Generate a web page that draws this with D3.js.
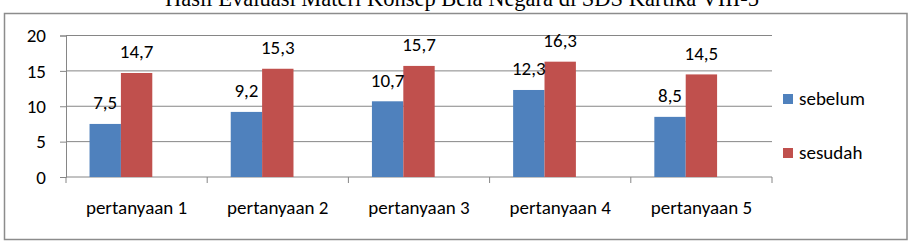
<!DOCTYPE html>
<html>
<head>
<meta charset="utf-8">
<script src="https://cdn.jsdelivr.net/npm/d3@7"></script>
<style>
  body { margin: 0; background: #fff; }
  svg { display: block; }
  text { font-family: Carlito, Calibri, Lato, sans-serif; fill: #000; }
  .title { font-family: "Liberation Serif", "Times New Roman", serif; }
</style>
</head>
<body>
<div id="chart"></div>
<script>
var categories = ["pertanyaan 1", "pertanyaan 2", "pertanyaan 3", "pertanyaan 4", "pertanyaan 5"];
var seriesNames = ["sebelum", "sesudah"];
var sebelum = [7.5, 9.2, 10.7, 12.3, 8.5];
var sesudah = [14.7, 15.3, 15.7, 16.3, 14.5];
var yTicks = [0, 5, 10, 15, 20];
var colors = ["#4F81BD", "#C0504D"];
var title = "Hasil Evaluasi Materi Konsep Bela Negara di SDS Kartika VIII-5";

var width = 917, height = 242;
var plot = {left: 66, right: 772, top: 35.5, bottom: 177};

var fmt = d3.formatLocale({decimal: ",", thousands: ".", grouping: [3], currency: ["Rp", ""]}).format(".1f");

var rows = categories.map(function(c, i) {
  return {cat: c, values: [sebelum[i], sesudah[i]]};
});

var svg = d3.select("#chart").append("svg")
    .attr("width", width)
    .attr("height", height);

// title, mostly cut off by the top edge
svg.append("text")
    .attr("class", "title")
    .attr("x", 462)
    .attr("y", 6)
    .attr("text-anchor", "middle")
    .style("font-size", "22.5px")
    .text(title);

// outer frame
svg.append("rect")
    .attr("x", 4.5)
    .attr("y", 13.5)
    .attr("width", 902.5)
    .attr("height", 226)
    .attr("fill", "none")
    .attr("stroke", "#8c8c8c")
    .attr("stroke-width", 1.5);

var x0 = d3.scaleBand()
    .domain(categories)
    .range([plot.left, plot.right])
    .padding(0);

// three slots per group (third one is empty), gap 150%
var x1 = d3.scaleBand()
    .domain(seriesNames.concat(["_"]))
    .range([0, x0.bandwidth()])
    .paddingInner(0)
    .paddingOuter(0.75);

var y = d3.scaleLinear()
    .domain([0, 20])
    .range([plot.bottom, plot.top]);

// gridlines
svg.append("g")
  .selectAll("line")
  .data(yTicks.filter(function(d) { return d > 0; }))
  .enter().append("line")
    .attr("x1", plot.left)
    .attr("x2", plot.right)
    .attr("y1", function(d) { return y(d); })
    .attr("y2", function(d) { return y(d); })
    .attr("stroke", "#868686")
    .attr("stroke-width", 1);

// y axis
var yAxis = svg.append("g")
    .attr("transform", "translate(" + plot.left + ",0)")
    .call(d3.axisLeft(y).tickValues(yTicks).tickSize(6).tickPadding(14));
yAxis.select(".domain").attr("stroke", "#868686");
yAxis.selectAll(".tick line").attr("stroke", "#868686");
yAxis.selectAll("text")
    .style("font-size", "19px")
    .attr("dy", "0.33em")
    .attr("fill", "#000");

// x axis
var xAxis = svg.append("g")
    .attr("transform", "translate(0," + plot.bottom + ")");
xAxis.append("line")
    .attr("x1", plot.left)
    .attr("x2", plot.right)
    .attr("stroke", "#868686");
xAxis.selectAll(".tk")
  .data(categories.map(function(c) { return x0(c); }).concat([plot.right]))
  .enter().append("line")
    .attr("class", "tk")
    .attr("x1", function(d) { return d; })
    .attr("x2", function(d) { return d; })
    .attr("y1", 0)
    .attr("y2", 6)
    .attr("stroke", "#868686");
xAxis.selectAll(".lbl")
  .data(categories)
  .enter().append("text")
    .attr("class", "lbl")
    .attr("x", function(d) { return x0(d) + x0.bandwidth() / 2; })
    .attr("y", 37)
    .attr("text-anchor", "middle")
    .style("font-size", "19px")
    .text(function(d) { return d; });

// bars
var groups = svg.append("g")
  .selectAll("g")
  .data(rows)
  .enter().append("g")
    .attr("transform", function(d) { return "translate(" + x0(d.cat) + ",0)"; });

groups.selectAll("rect")
  .data(function(d) { return d.values.map(function(v, i) { return {key: seriesNames[i], value: v, i: i}; }); })
  .enter().append("rect")
    .attr("x", function(d) { return x1(d.key); })
    .attr("y", function(d) { return y(d.value); })
    .attr("width", x1.bandwidth())
    .attr("height", function(d) { return y(0) - y(d.value); })
    .attr("fill", function(d) { return colors[d.i]; });

groups.selectAll("text")
  .data(function(d) { return d.values.map(function(v, i) { return {key: seriesNames[i], value: v}; }); })
  .enter().append("text")
    .attr("x", function(d) { return x1(d.key) + x1.bandwidth() / 2; })
    .attr("y", function(d) { return y(d.value) - 14.5; })
    .attr("text-anchor", "middle")
    .style("font-size", "19px")
    .text(function(d) { return fmt(d.value); });

// legend
var legend = svg.append("g")
  .selectAll("g")
  .data(seriesNames)
  .enter().append("g")
    .attr("transform", function(d, i) { return "translate(783," + (94 + i * 54) + ")"; });

legend.append("rect")
    .attr("width", 10)
    .attr("height", 10)
    .attr("fill", function(d, i) { return colors[i]; });

legend.append("text")
    .attr("x", 16)
    .attr("y", 11)
    .style("font-size", "19px")
    .text(function(d) { return d; });
</script>
</body>
</html>
